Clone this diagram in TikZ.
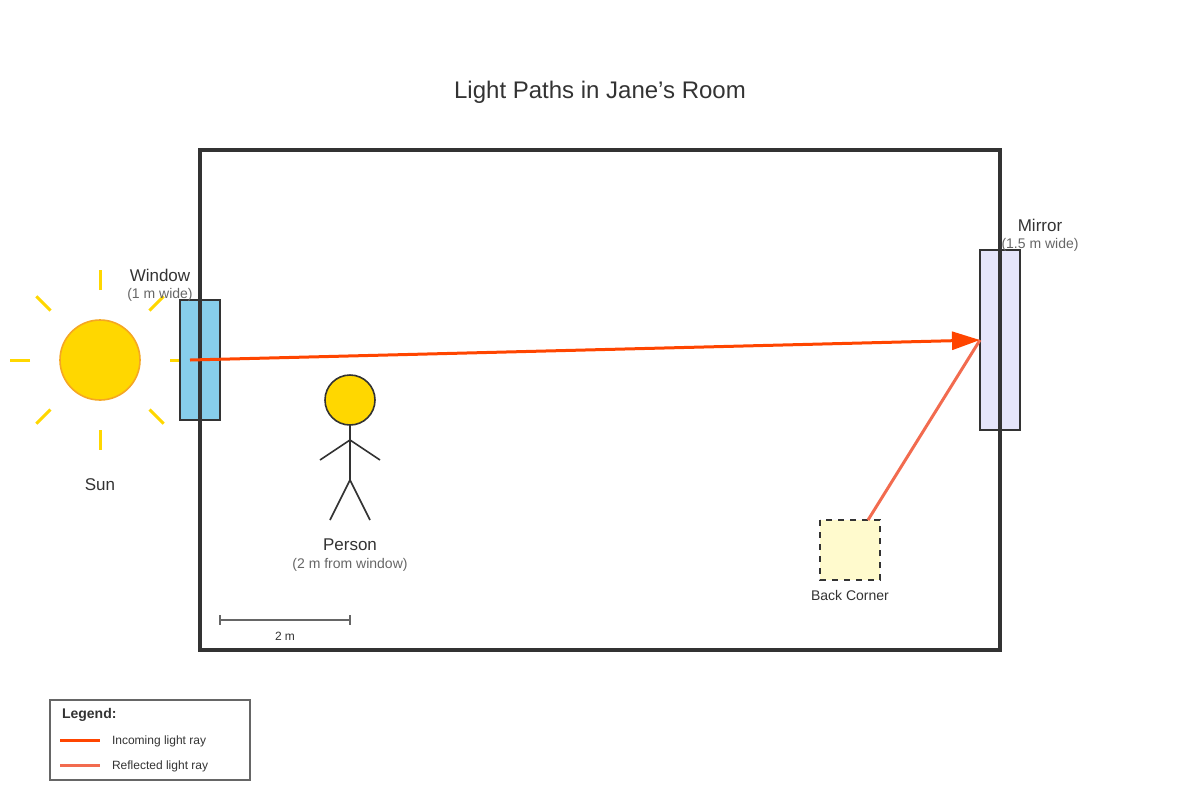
\documentclass[tikz,border=0pt]{standalone}
\usepackage{fontspec}
\setmainfont{Liberation Sans}
\usetikzlibrary{arrows.meta,calc}
\definecolor{ink}{HTML}{333333}
\definecolor{subink}{HTML}{666666}
\definecolor{sunfill}{HTML}{FFD700}
\definecolor{sunedge}{HTML}{F5A623}
\definecolor{glass}{HTML}{87CEEB}
\definecolor{mirrorfill}{HTML}{E6E6FA}
\definecolor{cornerfill}{HTML}{FFFACD}
\definecolor{inray}{HTML}{FF4500}
\definecolor{outray}{HTML}{F26B4F}
\tikzset{
  txt/.style={text=ink, font=\fontsize{8.5pt}{10pt}\selectfont},
  subtxt/.style={text=subink, font=\fontsize{7pt}{8pt}\selectfont},
  tinytxt/.style={text=ink, font=\fontsize{6pt}{7pt}\selectfont},
}
\begin{document}
\begin{tikzpicture}[x=0.5pt, y=-0.5pt]
\def\xw{200};
\def\xm{1000};
\def\yray{360};

\useasboundingbox (0,0) rectangle (1200,800);

\node[text=ink, font=\fontsize{12pt}{14pt}\selectfont] (title) at (600,92) {Light Paths in Jane's Room};

% sun
\foreach \a in {0,45,...,315}
  \draw[sunfill, line width=1.5pt] ($(100,360)+(\a:70)$) -- ($(100,360)+(\a:90)$);
\filldraw[fill=sunfill, draw=sunedge, line width=0.8pt] (100,360) circle (40);
\node[txt] (sun) at (100,485) {Sun};

% window and mirror, room wall over them
\filldraw[fill=glass, draw=ink, line width=0.8pt] (180,300) rectangle (220,420);
\filldraw[fill=mirrorfill, draw=ink, line width=0.8pt] (980,250) rectangle (1020,430);
\draw[ink, line width=2pt] (\xw,150) rectangle (\xm,650);

\node[txt] (win) at (160,275) {Window};
\node[subtxt] (winsub) at (160,295) {(1 m wide)};
\node[txt] (mir) at (1040,225) {Mirror};
\node[subtxt] (mirsub) at (1040,245) {(1.5 m wide)};

% person
\filldraw[fill=sunfill, draw=ink, line width=0.8pt] (350,400) circle (25);
\draw[ink, line width=0.8pt] (350,425) -- (350,480);
\draw[ink, line width=0.8pt] (320,460) -- (350,440) -- (380,460);
\draw[ink, line width=0.8pt] (330,520) -- (350,480) -- (370,520);
\node[txt] (person) at (350,545) {Person};
\node[subtxt] (personsub) at (350,565) {(2 m from window)};

% back corner
\filldraw[fill=cornerfill, draw=ink, dashed, line width=0.8pt] (820,520) rectangle (880,580);
\node[tinytxt, font=\fontsize{7pt}{8pt}\selectfont] (corner) at (850,595) {Back Corner};

% rays
\coordinate (entry) at (190,\yray);
\coordinate (hit) at (980,340);
\coordinate (cor) at (868,520);
\draw[inray, line width=1.5pt, -{Triangle[length=14pt,width=9pt]}] (entry) -- (hit);
\draw[outray, line width=1.5pt] (cor) -- (hit);

% scale bar
\draw[subink, line width=0.6pt] (220,615) -- (220,625) (350,615) -- (350,625) (220,620) -- (350,620);
\node[tinytxt] (scale) at (285,636) {2 m};

% legend
\draw[subink, line width=0.6pt] (50,700) rectangle (250,780);
\node[txt, anchor=west, font=\bfseries\fontsize{7pt}{8pt}\selectfont] (leg) at (55,715) {Legend:};
\draw[inray, line width=1.5pt] (60,740) -- (100,740);
\draw[outray, line width=1.5pt] (60,765) -- (100,765);
\node[tinytxt, anchor=west] (legin) at (105,741) {Incoming light ray};
\node[tinytxt, anchor=west] (legout) at (105,766) {Reflected light ray};

\end{tikzpicture}
\end{document}
